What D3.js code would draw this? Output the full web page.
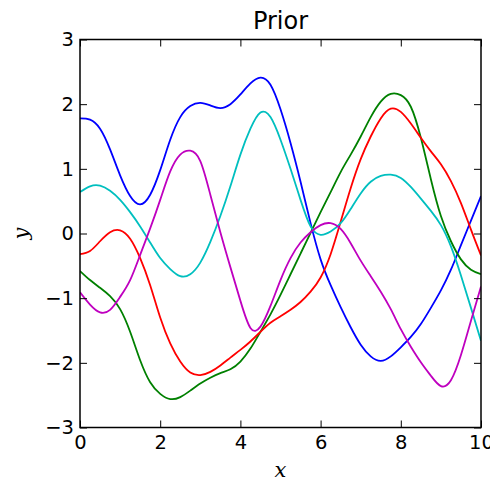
<!DOCTYPE html>
<html>
<head>
<meta charset="utf-8">
<script src="https://cdn.jsdelivr.net/npm/d3@7"></script>
<style>
  body { margin: 0; background: #fff; }
  svg { display: block; }
</style>
</head>
<body>
<div id="chart"></div>
<script>
// sample positions along x
const xs = [0, 0.25, 0.5, 0.75, 1, 1.25, 1.5, 1.75, 2, 2.25, 2.5, 2.75, 3, 3.25, 3.5, 3.75,
  4, 4.25, 4.5, 4.75, 5, 5.25, 5.5, 5.75, 6, 6.25, 6.5, 6.75, 7, 7.25, 7.5, 7.75,
  8, 8.25, 8.5, 8.75, 9, 9.25, 9.5, 9.75, 10];

// five draws from the prior
const blueY = [1.78, 1.76, 1.62, 1.3, 0.9, 0.58, 0.45, 0.6, 0.98, 1.45, 1.8, 1.97, 2.02, 1.98, 1.94, 2.0,
  2.15, 2.32, 2.41, 2.3, 1.92, 1.4, 0.8, 0.16, -0.4, -0.8, -1.14, -1.45, -1.72, -1.9, -1.97, -1.9,
  -1.76, -1.6, -1.4, -1.15, -0.88, -0.56, -0.18, 0.2, 0.58];
const greenY = [-0.58, -0.72, -0.84, -0.97, -1.17, -1.52, -1.96, -2.3, -2.48, -2.56, -2.53, -2.43, -2.32, -2.23, -2.16, -2.1,
  -1.98, -1.78, -1.52, -1.25, -0.95, -0.63, -0.31, 0.01, 0.33, 0.64, 0.95, 1.22, 1.5, 1.8, 2.04, 2.16,
  2.14, 1.96, 1.48, 0.84, 0.27, -0.12, -0.4, -0.56, -0.63];
const redY = [-0.32, -0.27, -0.12, 0.02, 0.05, -0.08, -0.38, -0.8, -1.3, -1.7, -1.98, -2.15, -2.19, -2.14, -2.04, -1.92,
  -1.8, -1.67, -1.52, -1.38, -1.28, -1.18, -1.06, -0.9, -0.68, -0.32, 0.18, 0.7, 1.15, 1.5, 1.78, 1.93,
  1.88, 1.7, 1.48, 1.27, 1.07, 0.81, 0.47, 0.06, -0.34];
const cyanY = [0.64, 0.73, 0.74, 0.66, 0.52, 0.33, 0.11, -0.14, -0.38, -0.55, -0.66, -0.63, -0.45, -0.13, 0.27, 0.73,
  1.22, 1.62, 1.87, 1.8, 1.45, 1.0, 0.52, 0.11, -0.02, 0.03, 0.16, 0.38, 0.62, 0.8, 0.89, 0.91,
  0.86, 0.72, 0.54, 0.35, 0.13, -0.2, -0.65, -1.15, -1.66];
const magentaY = [-0.91, -1.1, -1.22, -1.18, -0.98, -0.72, -0.33, 0.08, 0.52, 0.96, 1.22, 1.28, 1.12, 0.6, 0.02, -0.52,
  -1.04, -1.46, -1.44, -1.12, -0.72, -0.38, -0.14, 0.02, 0.13, 0.16, 0.07, -0.15, -0.42, -0.66, -0.9, -1.17,
  -1.48, -1.75, -1.99, -2.2, -2.36, -2.27, -1.88, -1.35, -0.82];

const seriesNames = ["b", "g", "r", "c", "m"];
const seriesColors = ["#0000ff", "#008000", "#ff0000", "#00bfbf", "#bf00bf"];
const seriesValues = [blueY, greenY, redY, cyanY, magentaY];

const xTicks = [0, 2, 4, 6, 8, 10];
const yTicks = [-3, -2, -1, 0, 1, 2, 3];

// layout
const W = 490, H = 481;
const plotL = 80, plotR = 481, plotT = 39.5, plotB = 427.5;

const svg = d3.select("#chart").append("svg")
    .attr("width", W)
    .attr("height", H);

const x = d3.scaleLinear().domain([0, 10]).range([plotL, plotR]);
const y = d3.scaleLinear().domain([-3, 3]).range([plotB, plotT]);

svg.append("clipPath").attr("id", "plotClip")
    .append("rect")
    .attr("x", plotL).attr("y", plotT)
    .attr("width", plotR - plotL).attr("height", plotB - plotT);

// --- lines ---
const line = d3.line()
    .x(d => x(d[0]))
    .y(d => y(d[1]))
    .curve(d3.curveNatural);

const lineLayer = svg.append("g").attr("clip-path", "url(#plotClip)");

seriesValues.forEach(function (vals, i) {
    const pts = xs.map((xv, j) => [xv, vals[j]]);
    lineLayer.append("path")
        .attr("d", line(pts))
        .attr("fill", "none")
        .attr("stroke", seriesColors[i])
        .attr("stroke-width", 1.8)
        .attr("stroke-linejoin", "round");
});

// --- axes (ticks point inward, on all four sides) ---
const fmt = d3.format("d");
const tickFont = "DejaVu Sans, sans-serif";

function styleAxis(g) {
    g.select(".domain").remove();
    g.selectAll(".tick line").attr("stroke", "#000").attr("stroke-width", 1);
    g.selectAll(".tick text")
        .attr("fill", "#000")
        .style("font-family", tickFont)
        .style("font-size", "19.5px");
}

svg.append("g")
    .attr("transform", "translate(0," + plotB + ")")
    .call(d3.axisBottom(x).tickValues(xTicks).tickFormat(fmt).tickSize(-7).tickPadding(8))
    .call(styleAxis);

svg.append("g")
    .attr("transform", "translate(0," + plotT + ")")
    .call(d3.axisTop(x).tickValues(xTicks).tickFormat("").tickSize(-7))
    .call(styleAxis);

svg.append("g")
    .attr("transform", "translate(" + plotL + ",0)")
    .call(d3.axisLeft(y).tickValues(yTicks).tickFormat(fmt).tickSize(-7).tickPadding(6))
    .call(styleAxis);

svg.append("g")
    .attr("transform", "translate(" + plotR + ",0)")
    .call(d3.axisRight(y).tickValues(yTicks).tickFormat("").tickSize(-7))
    .call(styleAxis);

// frame
svg.append("rect")
    .attr("x", plotL).attr("y", plotT)
    .attr("width", plotR - plotL).attr("height", plotB - plotT)
    .attr("fill", "none")
    .attr("stroke", "#000")
    .attr("stroke-width", 1.5);

// title and axis labels
svg.append("text")
    .attr("x", (plotL + plotR) / 2)
    .attr("y", 29)
    .attr("text-anchor", "middle")
    .style("font-family", tickFont)
    .style("font-size", "24px")
    .text("Prior");

svg.append("text")
    .attr("x", (plotL + plotR) / 2)
    .attr("y", 477)
    .attr("text-anchor", "middle")
    .style("font-family", "DejaVu Serif, serif")
    .style("font-style", "italic")
    .style("font-size", "21px")
    .text("x");

svg.append("text")
    .attr("transform", "translate(28," + ((plotT + plotB) / 2) + ") rotate(-90)")
    .attr("text-anchor", "middle")
    .style("font-family", "DejaVu Serif, serif")
    .style("font-style", "italic")
    .style("font-size", "21px")
    .text("y");
</script>
</body>
</html>
